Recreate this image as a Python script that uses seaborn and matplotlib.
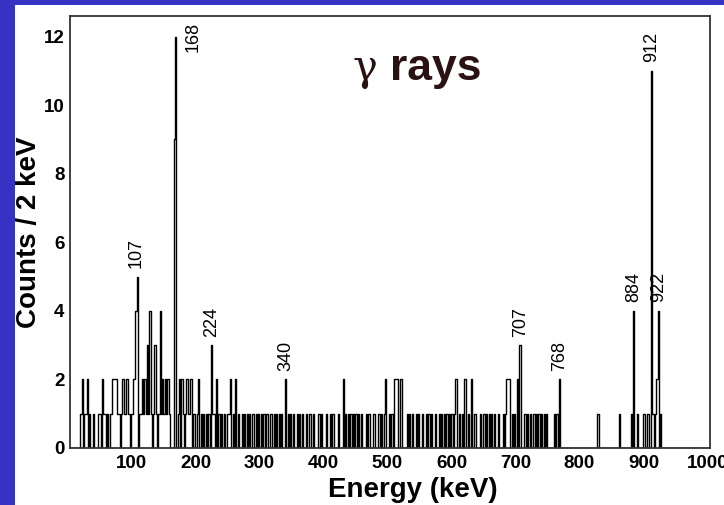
import matplotlib
matplotlib.use("Agg")
import matplotlib.pyplot as plt
import numpy as np
import pandas as pd
import seaborn as sns
from matplotlib.patches import Rectangle
from matplotlib.ticker import MultipleLocator

# 2 keV bins, lower edge energy of each bin that is not empty
ONES = [20, 26, 28, 34, 40, 48, 50, 56, 58,
        62, 66, 68, 78, 80, 84, 88, 90, 94, 96, 100,
        112, 114, 118, 122, 126, 130, 134, 138, 142, 146, 150, 154, 158,
        172, 180, 184, 188, 190, 196, 198, 202, 208, 212, 216, 220, 226, 228, 236,
        240, 244, 250, 252, 258, 266, 272, 276, 280, 284, 288, 290, 294, 298,
        302, 306, 310, 312, 316, 318, 322, 326, 330, 334, 344, 348, 352, 358, 362,
        366, 372, 378, 384, 392, 396,
        404, 410, 414, 422, 434, 438, 442, 446, 450, 454, 458, 466, 470, 478, 486,
        490, 494,
        502, 506, 530, 534, 538, 544, 548, 554, 560, 564, 568, 574, 580, 584, 588,
        592, 596,
        600, 604, 612, 616, 626, 636, 644, 650, 654, 658, 662, 666, 672, 680, 684,
        694, 698,
        714, 718, 722, 728, 732, 736, 740, 744, 748, 760, 764,
        828, 862, 880, 890, 900, 906, 914, 918, 926]
TWOS = [22, 30, 54, 70, 72, 74, 76, 86, 92, 102, 104, 116, 120, 148, 152, 156,
        174, 178, 186, 192, 204, 232, 254, 262, 340, 430, 496, 510, 512, 514, 520,
        606, 620, 630, 686, 688, 690, 702, 768, 920]
THREES = [124, 136, 224, 706]
FOURS = [106, 128, 144, 884, 922]
BIG_E = [108, 166, 168, 912]
BIG_C = [5, 9, 12, 11]

PEAK_LABELS = ["107", "168", "224", "340", "707", "768", "884", "912", "922"]
PEAK_E = [107, 168, 224, 340, 707, 768, 884, 912, 922]
PEAK_C = [5, 12, 3, 2, 3, 2, 4, 11, 4]

edges = np.arange(4, 1006, 2)
counts = np.zeros(len(edges) - 1)
for energies, value in [(ONES, 1), (TWOS, 2), (THREES, 3), (FOURS, 4)]:
    for e in energies:
        counts[(e - 4) // 2] = value
for e, c in zip(BIG_E, BIG_C):
    counts[(e - 4) // 2] = c
spectrum = pd.DataFrame({"energy": edges[:-1] + 1.0, "counts": counts})

sns.set_theme(style="white")
plt.rcParams["font.family"] = ["Liberation Sans", "DejaVu Sans"]
plt.rcParams["text.color"] = "black"
plt.rcParams["axes.labelcolor"] = "black"

W, H = 724, 505
fig = plt.figure(figsize=(W / 100, H / 100), dpi=100, facecolor="#3532c4")
fig.patches.append(Rectangle((15 / W, 0), 709 / W, 500 / H, transform=fig.transFigure,
                             facecolor="white", edgecolor="none", zorder=-5))
ax = fig.add_axes([70 / W, (H - 448) / H, 640 / W, 432 / H])
ax.set_facecolor("white")

sns.histplot(data=spectrum, x="energy", weights="counts", binwidth=2, binrange=(4, 1004),
             element="step", fill=False, color="black", linewidth=1.0, ax=ax)

ax.set_xlim(4, 1004)
ax.set_ylim(0, 12.6)
ax.xaxis.set_major_locator(MultipleLocator(100))
ax.xaxis.set_minor_locator(MultipleLocator(20))
ax.yaxis.set_major_locator(MultipleLocator(2))
ax.yaxis.set_minor_locator(MultipleLocator(0.5))
ax.tick_params(axis="y", which="major", direction="in", length=14, width=1.2,
               color="#333333", labelcolor="black", pad=4, labelsize=13.5)
ax.tick_params(axis="y", which="minor", direction="in", length=7, width=1.2, color="#333333")
ax.tick_params(axis="x", which="major", direction="in", length=10, width=1.2,
               color="#333333", labelcolor="black", pad=5, labelsize=13.5)
ax.tick_params(axis="x", which="minor", direction="in", length=5, width=1.2, color="#333333")
ax.set_xticks([t for t in range(100, 1001, 100)])
for lab in ax.get_xticklabels() + ax.get_yticklabels():
    lab.set_fontweight("bold")
for sp in ax.spines.values():
    sp.set_color("#333333")
    sp.set_linewidth(1.3)

ax.set_xlabel("Energy (keV)", fontsize=20, fontweight="bold", color="black")
ax.set_ylabel("Counts / 2 keV", fontsize=20, fontweight="bold", color="black")
ax.xaxis.set_label_coords(0.536, -0.066)
ax.yaxis.set_label_coords(-0.044, 0.5)

for lab, e, c in zip(PEAK_LABELS, PEAK_E, PEAK_C):
    x, y = e + 1, c + 0.25
    if lab == "168":
        x, y = e + 28, c - 0.45
    ax.text(x, y, lab, rotation=90, ha="center", va="bottom", fontsize=13, color="black")

ax.text(0.48, 0.852, "γ", transform=ax.transAxes, ha="right", va="baseline",
        fontsize=30, family="DejaVu Serif", color="#2b1212")
ax.text(0.5, 0.852, "rays", transform=ax.transAxes, ha="left", va="baseline",
        fontsize=32, fontweight="bold", color="#2b1212")

fig.savefig("out.png", dpi=100, facecolor=fig.get_facecolor())
